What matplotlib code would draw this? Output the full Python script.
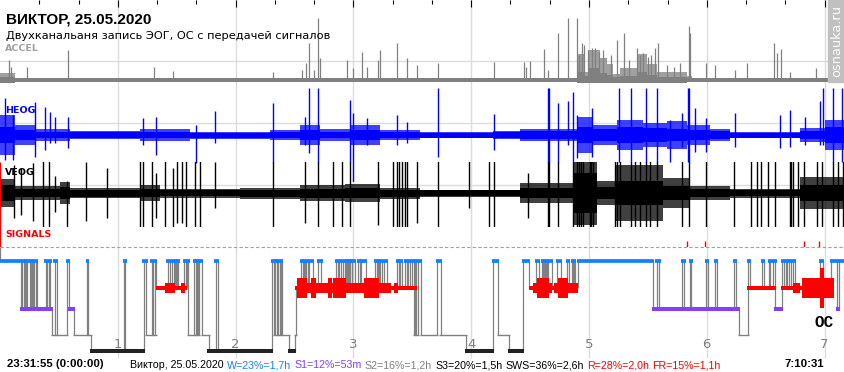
import matplotlib
matplotlib.use("Agg")
import matplotlib.pyplot as plt
from matplotlib.patches import Rectangle

# figure size in pixels and the time span covered by the full width (minutes)
W_PX, H_PX = 845, 372
T_END = 430.4
HYP_END = 429.3

hours = [1, 2, 3, 4, 5, 6, 7]
ruler_step = 20  # minutes between ruler ticks

# ---- ACCEL: (start min, dense core height, outer height, lower edge), spikes (min, height)
accel_env = [(0.0, 3, 7, -3), (7.6, 2, 2, -2), (293.9, 8, 26, -3), (297.9, 4, 8, -3),
             (299.5, 12, 30, -3), (305.6, 7, 22, -3), (309.1, 5, 16, -3), (312.2, 3, 6, -3),
             (315.8, 4, 12, -3), (324.4, 8, 26, -3), (329.5, 5, 16, -3), (334.6, 3, 8, -3),
             (349.9, 2, 4, -2), (352.4, 2, 2.5, -2)]
accel_spikes = [(4.7, 20), (5.4, 13), (13.6, 13), (34.8, 30), (78.6, 13), (88.1, 9), (139.0, 8),
                (153.7, 10), (155.7, 17), (157.5, 37), (159.9, 10), (162.1, 62), (163.0, 22),
                (176.6, 20), (179.6, 12), (184.2, 28), (186.8, 13), (192.7, 20), (193.5, 30),
                (202.3, 37), (207.4, 22), (212.2, 15), (223.2, 17), (251.6, 18), (267.0, 18),
                (267.7, 13), (269.8, 19), (276.9, 31), (278.9, 10), (284.3, 47), (289.4, 62),
                (293.7, 62), (295.0, 25), (296.6, 37), (297.4, 35), (299.5, 30), (301.4, 32),
                (303.0, 32), (305.1, 28), (307.1, 30), (311.2, 25), (314.1, 40), (317.8, 47),
                (320.3, 20), (324.3, 32), (326.0, 25), (327.6, 27), (329.9, 23), (331.6, 25),
                (333.6, 32), (335.3, 37), (339.5, 15), (343.3, 13), (346.3, 17), (350.8, 54),
                (351.4, 47), (359.6, 17), (364.1, 15), (374.3, 10), (380.3, 17), (394.2, 37),
                (395.6, 27), (397.8, 31), (402.3, 8), (415.6, 12)]

# ---- HEOG: (start min, dense core, outer half width), spikes (min, up, down)
heog_env = [(0.0, 8, 20), (7.6, 5, 10), (17.8, 3, 6), (35.7, 3, 4), (71.3, 3, 6), (96.8, 2.5, 3.5),
            (137.5, 3, 5), (152.8, 5, 10), (163.0, 3, 6), (178.3, 5, 10), (193.5, 3, 5),
            (213.9, 2.5, 3), (251.1, 3, 4), (264.8, 4, 6), (293.9, 8, 18), (302.0, 6, 10),
            (314.2, 8, 15), (327.5, 7, 12), (339.7, 6, 14), (349.9, 5, 10), (361.6, 4, 6),
            (371.8, 2.5, 3), (407.4, 4, 7), (420.2, 8, 15)]
heog_spikes = [(2.5, 37, 25), (6.6, 20, 25), (17.8, 33, 22), (22.9, 28, 15), (25.5, 23, 8),
               (28.0, 18, 8), (34.6, 18, 13), (72.8, 17, 10), (79.5, 18, 20), (99.8, 10, 28),
               (109.5, 24, 8), (139.0, 32, 27), (155.3, 18, 10), (157.5, 47, 18), (162.1, 47, 27),
               (178.3, 35, 27), (179.6, 22, 47), (186.8, 17, 10), (202.3, 20, 10), (207.4, 13, 8),
               (223.2, 47, 22), (251.6, 21, 15), (278.9, 47, 27), (279.8, 47, 27), (284.3, 32, 27),
               (289.4, 34, 10), (291.7, 43, 27), (293.7, 20, 23), (301.4, 27, 22), (315.4, 47, 27),
               (321.2, 47, 27), (328.9, 47, 27), (334.8, 47, 27), (341.2, 15, 27), (347.2, 22, 12),
               (350.6, 47, 27), (351.1, 47, 27), (354.0, 27, 17), (359.6, 17, 17), (374.3, 22, 12),
               (397.3, 20, 13), (402.3, 25, 12), (410.0, 18, 10), (417.6, 34, 10), (419.3, 47, 10),
               (424.4, 47, 27), (428.7, 47, 27)]

# ---- VEOG: (start min, dense core, outer half width), spikes (min, up, down)
veog_env = [(0.0, 8, 14), (7.6, 4, 7), (30.6, 6, 11), (35.7, 3.5, 5), (71.3, 4, 8), (81.5, 3, 4.5),
            (122.2, 3.5, 5.5), (152.8, 4.5, 8), (175.7, 5, 9), (193.5, 3.5, 5.5), (213.9, 3, 3.5),
            (264.8, 5, 10), (291.8, 20, 32), (304.1, 6, 12), (313.2, 12, 28), (337.7, 7, 15),
            (351.4, 4, 7), (371.8, 3, 4.5), (407.4, 8, 16)]
veog_spikes = [(7.1, 28, 25), (10.5, 25, 22), (17.0, 30, 28), (22.1, 40, 40), (25.1, 40, 40),
               (28.0, 17, 19), (34.0, 12, 40), (43.8, 31, 28), (54.3, 25, 25), (71.3, 40, 40),
               (72.7, 40, 40), (77.3, 40, 40), (79.5, 20, 25), (84.0, 40, 40), (88.3, 25, 40),
               (90.0, 40, 30), (92.5, 40, 30), (94.6, 40, 40), (99.3, 40, 40), (101.9, 40, 40),
               (109.5, 31, 15), (139.2, 40, 40), (155.3, 40, 30), (162.1, 40, 40), (169.8, 40, 40),
               (174.0, 40, 40), (178.3, 40, 40), (192.7, 40, 32), (200.3, 40, 40), (202.0, 40, 40),
               (203.4, 40, 40), (204.6, 40, 40), (206.3, 40, 40), (207.4, 40, 40), (212.2, 40, 30),
               (223.2, 40, 40), (239.0, 40, 15), (249.2, 40, 40), (251.6, 40, 40), (269.1, 20, 25),
               (278.9, 40, 40), (279.8, 40, 40), (284.3, 40, 40), (292.0, 40, 40), (293.9, 40, 40),
               (294.9, 40, 40), (295.9, 40, 40), (296.9, 40, 40), (300.5, 40, 40), (301.2, 40, 40),
               (302.0, 40, 40), (313.2, 40, 40), (314.5, 40, 40), (315.8, 40, 40), (321.2, 40, 40),
               (323.4, 40, 40), (326.0, 40, 40), (328.9, 40, 40), (331.0, 40, 40), (334.8, 40, 40),
               (347.2, 40, 40), (351.1, 40, 40), (359.6, 40, 40), (373.8, 40, 40), (382.3, 40, 40),
               (385.7, 40, 40), (387.4, 40, 40), (391.3, 40, 40), (394.7, 40, 40), (402.3, 40, 40),
               (403.0, 40, 40), (403.7, 40, 40), (406.6, 40, 40), (409.6, 40, 40), (415.9, 40, 40),
               (418.5, 40, 40), (424.4, 40, 40), (427.0, 40, 40), (429.5, 40, 40)]

# ---- SIGNALS markers (min, height)
signals = [(0.0, 85), (349.7, 6), (359.2, 6), (409.6, 6), (417.3, 6)]

# ---- hypnogram: (start min, stage)
hypno = [(0.0, 'W'), (10.7, 'S1'), (11.2, 'W'), (12.2, 'S1'), (12.7, 'W'), (13.2, 'S1'), (14.0, 'W'),
         (15.3, 'S1'), (15.9, 'W'), (16.3, 'S1'), (17.0, 'W'), (17.3, 'S1'), (18.2, 'W'), (18.6, 'S1'),
         (23.2, 'W'), (23.9, 'S1'), (25.2, 'W'), (25.7, 'S1'), (26.6, 'S2'), (27.8, 'W'), (28.8, 'S2'),
         (34.0, 'W'), (35.0, 'S1'), (37.7, 'S2'), (44.2, 'W'), (44.7, 'S2'), (46.2, 'S3'), (63.2, 'W'),
         (63.9, 'S3'), (73.1, 'W'), (74.6, 'S2'), (77.2, 'W'), (77.9, 'S2'), (79.2, 'W'), (79.5, 'R'),
         (85.4, 'W'), (86.6, 'R'), (87.6, 'W'), (88.6, 'R'), (89.1, 'W'), (89.6, 'R'), (90.1, 'W'),
         (90.9, 'R'), (93.7, 'W'), (94.7, 'R'), (95.1, 'W'), (96.0, 'S2'), (98.8, 'W'), (99.6, 'S2'),
         (100.1, 'W'), (100.8, 'S2'), (101.3, 'W'), (102.9, 'S2'), (106.2, 'S3'), (109.8, 'W'),
         (110.8, 'S3'), (138.5, 'W'), (139.8, 'S2'), (140.3, 'W'), (141.1, 'S2'), (141.4, 'W'),
         (142.4, 'S2'), (143.1, 'W'), (143.6, 'S2'), (147.2, 'S3'), (150.2, 'S2'), (150.8, 'R'),
         (153.3, 'W'), (154.3, 'R'), (154.8, 'W'), (155.3, 'R'), (155.8, 'W'), (156.7, 'R'),
         (157.6, 'W'), (159.2, 'R'), (162.0, 'W'), (163.7, 'R'), (171.1, 'W'), (172.1, 'R'),
         (172.7, 'W'), (173.5, 'R'), (174.7, 'W'), (175.7, 'R'), (176.2, 'W'), (176.7, 'R'),
         (177.2, 'W'), (178.0, 'R'), (178.5, 'W'), (179.3, 'R'), (179.5, 'W'), (180.8, 'R'),
         (182.3, 'W'), (183.4, 'R'), (183.9, 'W'), (186.4, 'R'), (191.0, 'W'), (192.0, 'R'),
         (192.5, 'W'), (193.0, 'R'), (193.5, 'W'), (194.4, 'R'), (195.6, 'W'), (196.9, 'R'),
         (202.2, 'W'), (203.2, 'R'), (203.7, 'W'), (204.6, 'R'), (206.3, 'W'), (207.3, 'R'),
         (207.8, 'W'), (208.7, 'R'), (209.8, 'W'), (210.9, 'S2'), (211.4, 'W'), (211.9, 'S2'),
         (212.9, 'W'), (214.3, 'S2'), (222.6, 'W'), (224.4, 'S2'), (237.2, 'S3'), (251.1, 'W'),
         (253.6, 'S2'), (259.1, 'S3'), (266.4, 'W'), (269.4, 'R'), (273.0, 'W'), (274.4, 'R'),
         (276.0, 'W'), (276.7, 'R'), (277.3, 'W'), (277.7, 'R'), (278.3, 'W'), (278.7, 'R'),
         (279.3, 'W'), (281.0, 'R'), (283.7, 'W'), (285.6, 'R'), (288.8, 'W'), (289.8, 'R'),
         (291.3, 'W'), (291.8, 'R'), (292.4, 'W'), (292.9, 'R'), (294.4, 'W'), (332.6, 'S1'),
         (334.4, 'W'), (335.9, 'S1'), (347.3, 'W'), (348.6, 'S1'), (351.4, 'W'), (352.2, 'S1'),
         (359.6, 'W'), (360.6, 'S1'), (364.1, 'W'), (365.2, 'S1'), (373.8, 'W'), (374.8, 'S1'),
         (376.4, 'S2'), (381.0, 'W'), (382.0, 'R'), (388.1, 'W'), (389.1, 'R'), (391.6, 'W'),
         (392.4, 'R'), (393.7, 'W'), (395.0, 'S1'), (398.3, 'W'), (399.3, 'R'), (400.1, 'W'),
         (401.1, 'R'), (401.8, 'W'), (402.9, 'R'), (403.9, 'W'), (404.9, 'R'), (417.6, 'W'),
         (419.2, 'R'), (423.2, 'W'), (426.3, 'S1'), (427.3, 'W')]

# REM eye-movement density: (start min, level 0..4)
rem = [(79.5, 1), (84.0, 2), (89.1, 1), (92.2, 2), (94.2, 1), (95.1, 0),
       (150.2, 1), (151.3, 3), (156.4, 2), (158.4, 3), (160.9, 2), (167.0, 3), (169.1, 2),
       (169.8, 3), (176.2, 2), (185.4, 3), (193.0, 2), (199.1, 1), (200.7, 2), (202.7, 1), (212.4, 0),
       (269.4, 1), (271.5, 2), (273.5, 3), (279.4, 2), (281.1, 1), (282.2, 2), (284.2, 3),
       (289.5, 2), (294.4, 0),
       (380.4, 1), (395.2, 0), (397.8, 1), (404.0, 2), (407.4, 1), (408.5, 3), (417.6, 4),
       (419.7, 3), (424.8, 0)]

title = "ВИКТОР, 25.05.2020"
subtitle = "Двухканальаня запись ЭОГ, ОС с передачей сигналов"
t_start = "23:31:55 (0:00:00)"
t_end = "7:10:31"
stats = [("Виктор, 25.05.2020", "black"), ("W=23%=1,7h", "#1480ff"), ("S1=12%=53m", "#7f40ff"),
         ("S2=16%=1,2h", "#808080"), ("S3=20%=1,5h", "black"), ("SWS=36%=2,6h", "black"),
         ("R=28%=2,0h", "red"), ("FR=15%=1,1h", "red")]

# ---------------------------------------------------------------- drawing
fig = plt.figure(figsize=(W_PX / 100, H_PX / 100), dpi=100)
fig.patch.set_facecolor("white")


def band(top, bottom, ylim):
    ax = fig.add_axes([0, 1 - bottom / H_PX, 1, (bottom - top) / H_PX])
    ax.set_xlim(0, T_END)
    ax.set_ylim(*ylim)
    ax.axis("off")
    ax.patch.set_alpha(0)
    return ax


def fy(px):
    return 1 - px / H_PX


# background: grid, ruler, dashed separator (pixel-like layout units)
bg = band(0, H_PX, (H_PX, 0))
for h in hours:
    bg.axvline(h * 60, ymin=1 - 357 / H_PX, ymax=1, color="#dcdcdc", lw=1.0, zorder=0)
for y in (61, 123, 185):
    bg.axhline(y, color="#dcdcdc", lw=1.0, zorder=0)
bg.axhline(247, color="#a0a0a0", lw=0.8, ls=(0, (3, 2)), zorder=0)
ticks = list(range(ruler_step, int(T_END), ruler_step))
bg.vlines([t for t in ticks if t % 60], 0, 4, color="black", lw=0.8)
bg.vlines([t for t in ticks if t % 60 == 0], 0, 7, color="black", lw=0.8)


def steps(env, col):
    t = [e[0] for e in env] + [T_END]
    v = [e[col] for e in env]
    v.append(v[-1])
    return t, v


def draw_sym(ax, env, color):
    t, core = steps(env, 1)
    _, outer = steps(env, 2)
    ax.fill_between(t, [-v for v in outer], outer, step="post", color=color, lw=0, alpha=0.75)
    ax.fill_between(t, [-v for v in core], core, step="post", color=color, lw=0)


# ACCEL
ax_acc = band(10, 85, (-5, 70))
t, core = steps(accel_env, 1)
_, outer = steps(accel_env, 2)
_, low = steps(accel_env, 3)
ax_acc.fill_between(t, low, outer, step="post", color="#808080", lw=0, alpha=0.75)
ax_acc.fill_between(t, low, core, step="post", color="#808080", lw=0)
ax_acc.vlines([s[0] for s in accel_spikes], 0, [s[1] for s in accel_spikes], color="#808080", lw=0.9)

# VEOG
ax_v = band(162, 227, (-33.7, 31.3))
draw_sym(ax_v, veog_env, "black")
ax_v.vlines([s[0] for s in veog_spikes], [-s[2] for s in veog_spikes],
            [s[1] for s in veog_spikes], color="black", lw=1.0)

# HEOG
ax_h = band(88, 182, (-47, 47))
draw_sym(ax_h, heog_env, "#0000ff")
ax_h.vlines([s[0] for s in heog_spikes], [-s[2] for s in heog_spikes],
            [s[1] for s in heog_spikes], color="#0000ff", lw=1.0)

# SIGNALS
ax_s = band(160, 247, (0, 87))
ax_s.vlines([s[0] for s in signals], 0, [s[1] for s in signals], color="red", lw=1.0)

# hypnogram
ax_hyp = band(247, 360, (360, 247))
level = {"W": 260.7, "R": 287.7, "S1": 309.0, "S2": 334.7, "S3": 350.5}
bar_style = {"W": ("#1480ff", 2.7), "S1": ("#7f40ff", 2.9), "S2": ("#808080", 1.0), "S3": ("#222222", 2.9)}
rem_half = {0: 0, 1: 2, 2: 5, 3: 10, 4: 20}
pad = 0.6

ax_hyp.vlines(0, 247, level["W"], color="#808080", lw=0.9, zorder=1)
starts = [h[0] for h in hypno] + [HYP_END]
for i, (t0, st) in enumerate(hypno):
    if i > 0:
        prev = hypno[i - 1][1]
        ax_hyp.vlines(t0, level[prev], level[st], color="#808080", lw=0.9, zorder=1)
    if st in bar_style:
        c, lw = bar_style[st]
        ax_hyp.hlines(level[st], max(t0 - pad, 0), starts[i + 1] + pad, color=c, lw=lw,
                      zorder=3 if st != "S2" else 1)

rt = [r[0] for r in rem] + [rem[-1][0]]
rh = [rem_half[r[1]] for r in rem] + [0]
ax_hyp.fill_between(rt, [level["R"] - v for v in rh], [level["R"] + v for v in rh],
                    step="post", color="red", lw=0, zorder=2)

# hour numbers
for h in hours:
    ax_hyp.text(h * 60, 348.3, str(h), ha="center", va="baseline", color="#808080", fontsize=9.5)
ax_hyp.text(419.7, 326.7, "ОС", ha="center", va="baseline", fontsize=11.5, fontweight="bold",
            family=["Liberation Mono", "DejaVu Sans Mono"])

# texts
fig.text(6 / W_PX, fy(23.3), title, fontsize=11, fontweight="bold", family=["Liberation Sans", "DejaVu Sans"])
fig.text(6 / W_PX, fy(39.3), subtitle, fontsize=8.2)
fig.text(5 / W_PX, fy(50.7), "ACCEL", fontsize=6.8, fontweight="bold", color="#a0a0a0")
fig.text(5 / W_PX, fy(113.3), "HEOG", fontsize=6.8, fontweight="bold", color="#0000ff")
fig.text(5 / W_PX, fy(175.0), "VEOG", fontsize=6.8, fontweight="bold", color="black")
fig.text(5 / W_PX, fy(236.7), "SIGNALS", fontsize=6.8, fontweight="bold", color="red")

fig.text(7 / W_PX, fy(366.7), t_start, fontsize=8.2, fontweight="bold", family=["Liberation Sans", "DejaVu Sans"])
fig.text(824 / W_PX, fy(366.7), t_end, fontsize=8.2, fontweight="bold", ha="right",
         family=["Liberation Sans", "DejaVu Sans"])

renderer = fig.canvas.get_renderer()
x = 130
for s, c in stats:
    t = fig.text(x / W_PX, fy(368.3), s, color=c, fontsize=7.7, family=["Liberation Sans", "DejaVu Sans"])
    x += t.get_window_extent(renderer).width + 3.2

# watermark
fig.patches.append(Rectangle((828 / W_PX, fy(82)), 17 / W_PX, 82 / H_PX, transform=fig.transFigure,
                             color="#c0c0c0", zorder=5))
fig.text(836.5 / W_PX, fy(41), "osnauka.ru", rotation=90, ha="center", va="center", color="white",
         fontsize=9.4, zorder=6)

fig.savefig("out.png", dpi=100)
